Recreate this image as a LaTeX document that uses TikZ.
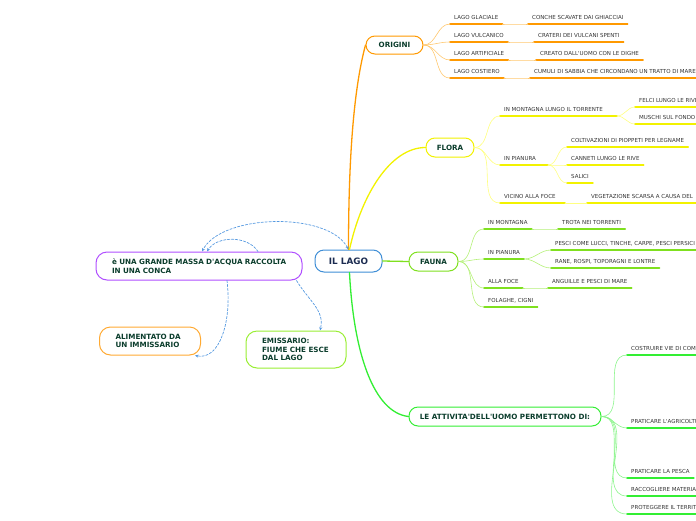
\documentclass[tikz,border=0pt]{standalone}
\usepackage{fontspec}
\setmainfont[Ligatures=TeXOff]{DejaVu Sans}
\usetikzlibrary{arrows.meta}
\definecolor{lagoblu}{HTML}{3F8ED6}
\definecolor{lagotxt}{HTML}{1B2B50}
\definecolor{testo}{HTML}{0B3D2C}
\definecolor{foglia}{HTML}{333333}
\definecolor{relblu}{HTML}{5599E0}
\definecolor{origlin}{HTML}{FF9900}
\definecolor{origram}{HTML}{FFC870}
\definecolor{floralin}{HTML}{F2F200}
\definecolor{floraram}{HTML}{FFFF80}
\definecolor{faunalin}{HTML}{7FE01F}
\definecolor{faunaram}{HTML}{B4F078}
\definecolor{attlin}{HTML}{33EE33}
\definecolor{attram}{HTML}{8CF58C}
\definecolor{massaviola}{HTML}{B04FFF}
\definecolor{alimarancio}{HTML}{FFAA33}
\definecolor{emisverde}{HTML}{99EE33}
\begin{document}
\begin{tikzpicture}[x=1pt, y=-1pt, line join=round, line cap=round, >=stealth,
  topic/.style={draw, rounded corners=9pt, fill=white, line width=1pt, text=testo,
    font=\bfseries\fontsize{7.2}{8.6}\selectfont, inner sep=0pt},
  note/.style={topic, align=left, inner xsep=16pt, rounded corners=11pt},
  leaf/.style={anchor=south west, inner xsep=4pt, inner ysep=4pt, text depth=0pt,
    font=\fontsize{5.5}{6.5}\selectfont, text=foglia},
  ul/.style={line width=1.6pt},
  branch/.style={line width=0.6pt},
  rel/.style={draw=relblu, dash pattern=on 2.4pt off 1.6pt, line width=0.7pt},
  tip/.style={-{Stealth[length=3.5pt,width=3pt]}},
  tips/.style={{Stealth[length=3.5pt,width=3pt]}-{Stealth[length=3.5pt,width=3pt]}}]
\useasboundingbox (0,0) rectangle (696,520);
\clip (0,0) rectangle (696,520);

% central and main topics
\node[topic, draw=lagoblu, text=lagotxt, font=\bfseries\fontsize{8.8}{10}\selectfont,
  minimum width=67pt, minimum height=22pt] (lago) at (348.5,261) {IL LAGO};
\node[topic, draw=origlin, minimum width=57pt, minimum height=18pt] (origini) at (394.5,45) {ORIGINI};
\node[topic, draw=floralin, minimum width=48pt, minimum height=19pt] (flora) at (450,147.5) {FLORA};
\node[topic, draw=faunalin, minimum width=49pt, minimum height=19pt] (fauna) at (433.5,261.5) {FAUNA};
\node[topic, draw=attlin, minimum width=192pt, minimum height=19pt] (attivita) at (505,416.5) {LE ATTIVITA'DELL'UOMO PERMETTONO DI:};

% floating notes
\node[note, draw=massaviola, inner xsep=12pt, text width=182pt, minimum height=28pt] (massa) at (199,266) {\hspace*{4pt}è UNA GRANDE MASSA D'ACQUA RACCOLTA\\\hspace*{4pt}IN UNA CONCA};
\node[note, draw=alimarancio, text width=69pt, minimum height=28pt] (alimentato) at (150,341) {ALIMENTATO DA\\UN IMMISSARIO};
\node[note, draw=emisverde, text width=68pt, minimum height=37pt] (emissario) at (296,349.5) {EMISSARIO:\\FIUME CHE ESCE\\DAL LAGO};

% main branches
\draw[line width=1.3pt, origlin] (lago.north) .. controls +(0,-120) and +(-8,30) .. (origini.west);
\draw[line width=1.3pt, floralin] ([xshift=1pt]lago.north) .. controls +(12,-55) and +(-35,0) .. (flora.west);
\draw[line width=1.3pt, faunalin] (lago.east) -- (fauna.west);
\draw[line width=1.3pt, attlin] ([xshift=1pt]lago.south) .. controls +(4,80) and +(-35,-4) .. (attivita.west);

% origini
\node[leaf] (g1) at (450,24) {LAGO GLACIALE};
\node[leaf] (g2) at (450,42) {LAGO VULCANICO};
\node[leaf] (g3) at (450,60) {LAGO ARTIFICIALE};
\node[leaf] (g4) at (450,78) {LAGO COSTIERO};
\node[leaf] (c1) at (528,24) {CONCHE SCAVATE DAI GHIACCIAI};
\node[leaf] (c2) at (534,42) {CRATERI DEI VULCANI SPENTI};
\node[leaf] (c3) at (536,60) {CREATO DALL'UOMO CON LE DIGHE};
\node[leaf] (c4) at (530,78) {CUMULI DI SABBIA CHE CIRCONDANO UN TRATTO DI MARE};
\foreach \n in {g1,g2,g3,g4,c1,c2,c3,c4}
  \draw[ul, origlin] (\n.south west) -- (\n.south east);
\foreach \n in {g1,g2,g3,g4}
  \draw[branch, origram] (origini.east) to[out=0, in=180] (\n.south west);
\foreach \a/\b in {g1/c1,g2/c2,g3/c3,g4/c4}
  \draw[branch, origram] (\a.south east) to[out=0, in=180] (\b.south west);

% flora
\node[leaf] (f1) at (500,116) {IN MONTAGNA LUNGO IL TORRENTE};
\node[leaf] (f2) at (500,165) {IN PIANURA};
\node[leaf] (f3) at (500,203) {VICINO ALLA FOCE};
\node[leaf] (f1a) at (635,107) {FELCI LUNGO LE RIVE};
\node[leaf] (f1b) at (635,124) {MUSCHI SUL FONDO};
\node[leaf] (f2a) at (567,147) {COLTIVAZIONI DI PIOPPETI PER LEGNAME};
\node[leaf] (f2b) at (567,165) {CANNETI LUNGO LE RIVE};
\node[leaf] (f2c) at (567,183) {SALICI};
\node[leaf] (f3a) at (587,203) {VEGETAZIONE SCARSA A CAUSA DEL};
\foreach \n in {f1a,f1b,f2a,f2b,f2c,f3a}
  \draw[ul, floralin] (\n.south west) -- (\n.south east);
\draw[ul, floralin] (f1.south west) -- (617,116);
\draw[ul, floralin] (f2.south west) -- (548,165);
\draw[ul, floralin] (f3.south west) -- (565,203);
\foreach \n in {f1,f2,f3}
  \draw[branch, floraram] (flora.east) to[out=0, in=180] (\n.south west);
\foreach \b in {f1a,f1b}
  \draw[branch, floraram] (617,116) to[out=0, in=180] (\b.south west);
\foreach \b in {f2a,f2b,f2c}
  \draw[branch, floraram] (548,165) to[out=0, in=180] (\b.south west);
\draw[branch, floraram] (565,203) -- (f3a.south west);

% fauna
\node[leaf] (a1) at (484,229) {IN MONTAGNA};
\node[leaf] (a2) at (484,259) {IN PIANURA};
\node[leaf] (a3) at (484,288) {ALLA FOCE};
\node[leaf] (a4) at (484,307) {FOLAGHE, CIGNI};
\node[leaf] (a1a) at (558,229) {TROTA NEI TORRENTI};
\node[leaf] (a2a) at (551,250) {PESCI COME LUCCI, TINCHE, CARPE, PESCI PERSICI};
\node[leaf] (a2b) at (551,268) {RANE, ROSPI, TOPORAGNI E LONTRE};
\node[leaf] (a3a) at (548,288) {ANGUILLE E PESCI DI MARE};
\foreach \n in {a1,a2,a3,a4,a1a,a2a,a2b,a3a}
  \draw[ul, faunalin] (\n.south west) -- (\n.south east);
\foreach \n in {a1,a2,a3,a4}
  \draw[branch, faunaram] (fauna.east) to[out=0, in=180] (\n.south west);
\foreach \a/\b in {a1/a1a,a2/a2a,a2/a2b,a3/a3a}
  \draw[branch, faunaram] (\a.south east) to[out=0, in=180] (\b.south west);

% attivita
\node[leaf] (h1) at (627,355) {COSTRUIRE VIE DI COMUNICAZIONE};
\node[leaf] (h2) at (627,428) {PRATICARE L'AGRICOLTURA};
\node[leaf] (h3) at (627,478) {PRATICARE LA PESCA\hspace{6pt}};
\node[leaf] (h4) at (627,496) {RACCOGLIERE MATERIALI};
\node[leaf] (h5) at (627,514) {PROTEGGERE IL TERRITORIO};
\foreach \n in {h1,h2,h3,h4,h5} {
  \draw[ul, attlin] (\n.south west) -- (\n.south east);
  \draw[branch, attram] (attivita.east) to[out=0, in=180] (\n.south west);
}

% relations
\draw[rel, tips] (lago.north) .. controls +(-20,-38) and +(20,-38) .. ([xshift=3pt]massa.north);
\draw[rel, tip] ([xshift=59pt]massa.north) .. controls +(-10,-16) and +(10,-16) .. ([xshift=8pt]massa.north);
\draw[rel, tip] ([xshift=28pt]massa.south) .. controls +(5,40) and +(25,5) .. ([xshift=-6pt]alimentato.south east);
\draw[rel, tip] ([xshift=-6pt]massa.south east) .. controls +(12,20) and +(5,-20) .. ([xshift=24pt]emissario.north);
\end{tikzpicture}
\end{document}
